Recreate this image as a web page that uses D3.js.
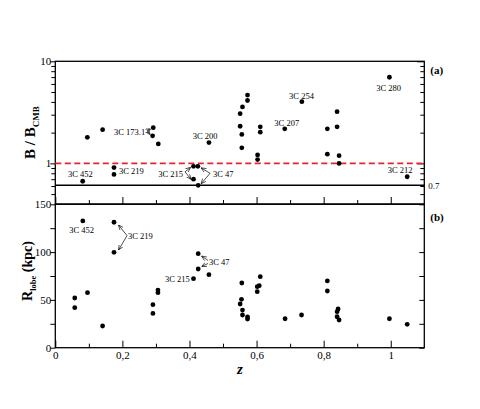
<!DOCTYPE html>
<html><head><meta charset="utf-8">
<script src="https://cdn.jsdelivr.net/npm/d3@7"></script>
<style>
body{margin:0;background:#fff;}
svg{display:block;font-family:"Liberation Serif","Times New Roman",serif;}
text{fill:#000;}
</style></head>
<body><svg id="c" width="480" height="409"></svg>
<script>
// ---- data ----
const topZ = [0.0816,0.0955,0.141,0.175,0.175,0.292,0.290,0.307,0.458,0.412,0.425,0.412,0.426,0.551,0.558,0.551,0.556,0.556,0.573,0.573,0.603,0.603,0.611,0.611,0.684,0.735,0.811,0.811,0.840,0.840,0.846,0.846,0.996,1.049];
const topB = [0.668,1.80,2.14,0.91,0.78,2.24,1.86,1.55,1.60,0.935,0.935,0.70,0.61,3.07,3.57,2.31,1.92,1.42,4.67,4.13,1.21,1.09,2.28,2.02,2.18,4.02,2.18,1.23,3.21,2.28,1.19,1.0,6.98,0.74];
const botZ = [0.058,0.058,0.082,0.096,0.141,0.175,0.175,0.291,0.291,0.306,0.306,0.412,0.426,0.426,0.458,0.556,0.555,0.551,0.558,0.558,0.573,0.573,0.602,0.602,0.608,0.611,0.685,0.734,0.811,0.811,0.843,0.840,0.840,0.846,0.996,1.049];
const botR = [52,41.9,132.6,57.6,22.7,131.2,99.8,45,35.9,60.3,57.6,72.2,98.4,82.3,76.4,67.7,50.6,45.7,39.4,34.2,32.2,30,63.8,58.6,64.9,74.3,30.3,34.2,69.8,59.3,40.5,37.7,32.4,29,30.3,24.4];
const xMajor = [0,0.2,0.4,0.6,0.8,1];
const xMinor = [0.1,0.3,0.5,0.7,0.9];
const xTickLabels = ["0","0,2","0,4","0,6","0,8","1"];
const topMajor = [1,10];
const topMinor = [0.5,0.6,0.7,0.8,0.9,2,3,4,5,6,7,8,9];
const botMajor = [0,50,100,150];
const botMinor = [25,75,125];
const refDashed = 1;      // B/B_CMB = 1
const refSolid = 0.61;    // solid line (labelled "0.7")
// labels: [text, z, value]
const topLabels = [["3C 452",0.038,0.731],["3C 219",0.190,0.781],["3C 173.1",0.175,1.917],["3C 200",0.4098,1.752],
  ["3C 215",0.307,0.731],["3C 47",0.4703,0.731],["3C 207",0.653,2.345],["3C 254",0.697,4.29],["3C 280",0.9564,5.14],["3C 212",0.9913,0.799]];
// arrows: [z0,v0,z1,v1]
const topArrows = [[0.2734,2.095,0.284,2.177],[0.2734,2.095,0.2824,1.917],
  [0.3868,0.826,0.4033,0.914],[0.3868,0.826,0.4047,0.698],
  [0.4614,0.799,0.4345,0.904],[0.4614,0.799,0.4345,0.632]];
const botLabels = [["3C 452",0.0418,120.5],["3C 219",0.2168,113.7],["3C 47",0.4584,86.5],["3C 215",0.3272,68.7]];
const botArrows = [[0.2138,117.2,0.1885,128.3],[0.2138,117.2,0.1885,102.2],
  [0.4554,91.2,0.436,95.9],[0.4554,88.1,0.436,84.9]];

// ---- layout ----
const L=55.3, R=424.3, T1=61.3, B1=204, T2=204.3, B2=347.7;
const x = d3.scaleLinear([0,1.1],[L,R]);
const yT = d3.scaleLog([0.4,10],[B1,T1]);
const yB = d3.scaleLinear([0,150],[B2,T2]);
const svg = d3.select("#c");

const defs = svg.append("defs");
defs.append("marker").attr("id","ah").attr("viewBox","0 0 8 8").attr("refX",8).attr("refY",4)
  .attr("markerWidth",5).attr("markerHeight",5).attr("markerUnits","userSpaceOnUse").attr("orient","auto")
  .append("path").attr("d","M0,0.5 L8,4 L0,7.5").attr("fill","none").attr("stroke","#000").attr("stroke-width",1);

function styleAxis(g){
  g.selectAll("path.domain").remove();
  g.selectAll("line").attr("stroke","#000").attr("stroke-width",1);
  g.selectAll("text").attr("font-family","Liberation Serif").attr("font-size",11).attr("fill","#000");
  g.attr("font-family",null).attr("font-size",null);
}

// top panel axes
svg.append("g").attr("transform",`translate(${L},0)`).call(d3.axisLeft(yT).tickValues(topMajor).tickFormat(d3.format("d")).tickSize(5).tickPadding(-1)).call(styleAxis);
svg.append("g").attr("transform",`translate(${L},0)`).call(d3.axisLeft(yT).tickValues(topMinor).tickFormat("").tickSize(4)).call(styleAxis);
svg.append("g").attr("transform",`translate(${R},0)`).call(d3.axisLeft(yT).tickValues(topMajor).tickFormat("").tickSize(7)).call(styleAxis);
svg.append("g").attr("transform",`translate(${R},0)`).call(d3.axisLeft(yT).tickValues(topMinor).tickFormat("").tickSize(4)).call(styleAxis);
svg.append("g").attr("transform",`translate(0,${B1})`).call(d3.axisBottom(x).tickValues(xMajor).tickFormat("").tickSizeInner(-7).tickSizeOuter(0)).call(styleAxis);
svg.append("g").attr("transform",`translate(0,${B1})`).call(d3.axisBottom(x).tickValues(xMinor).tickFormat("").tickSizeInner(-4).tickSizeOuter(0)).call(styleAxis);

// bottom panel axes
svg.append("g").attr("transform",`translate(${L},0)`).call(d3.axisLeft(yB).tickValues(botMajor).tickFormat(d3.format("d")).tickSize(5).tickPadding(-1)).call(styleAxis);
svg.append("g").attr("transform",`translate(${L},0)`).call(d3.axisLeft(yB).tickValues(botMinor).tickFormat("").tickSize(5)).call(styleAxis);
svg.append("g").attr("transform",`translate(${R},0)`).call(d3.axisLeft(yB).tickValues(botMajor).tickFormat("").tickSize(5)).call(styleAxis);
svg.append("g").attr("transform",`translate(${R},0)`).call(d3.axisLeft(yB).tickValues(botMinor).tickFormat("").tickSize(5)).call(styleAxis);
svg.append("g").attr("transform",`translate(0,${B2})`).call(d3.axisBottom(x).tickValues(xMajor).tickFormat((d,i)=>xTickLabels[i]).tickSizeInner(-7).tickSizeOuter(0).tickPadding(4)).call(styleAxis);
svg.append("g").attr("transform",`translate(0,${B2})`).call(d3.axisBottom(x).tickValues(xMinor).tickFormat("").tickSizeInner(-4).tickSizeOuter(0)).call(styleAxis);

// frames
svg.append("rect").attr("x",L).attr("y",T1).attr("width",R-L).attr("height",B1-T1).attr("fill","none").attr("stroke","#000").attr("stroke-width",1.3);
svg.append("rect").attr("x",L).attr("y",T2).attr("width",R-L).attr("height",B2-T2).attr("fill","none").attr("stroke","#000").attr("stroke-width",1.3);

// reference lines
svg.append("line").attr("x1",L).attr("x2",R).attr("y1",yT(refDashed)).attr("y2",yT(refDashed))
  .attr("stroke","#e8242a").attr("stroke-width",1.8).attr("stroke-dasharray","6,3.5");
svg.append("line").attr("x1",L).attr("x2",R).attr("y1",yT(refSolid)).attr("y2",yT(refSolid))
  .attr("stroke","#000").attr("stroke-width",1.5);
svg.append("text").attr("x",R+4).attr("y",yT(refSolid)+3.5).attr("font-size",9).attr("fill","#000").text("0.7");

// points
svg.append("g").selectAll("circle").data(topZ).join("circle")
  .attr("cx",d=>x(d)).attr("cy",(d,i)=>yT(topB[i])).attr("r",2.4).attr("fill","#000");
svg.append("g").selectAll("circle").data(botZ).join("circle")
  .attr("cx",d=>x(d)).attr("cy",(d,i)=>yB(botR[i])).attr("r",2.4).attr("fill","#000");

// annotations
svg.append("g").selectAll("text").data(topLabels).join("text")
  .attr("x",d=>x(d[1])).attr("y",d=>yT(d[2])).attr("font-size",8.5).attr("fill","#000").text(d=>d[0]);
svg.append("g").selectAll("text").data(botLabels).join("text")
  .attr("x",d=>x(d[1])).attr("y",d=>yB(d[2])).attr("font-size",8.5).attr("fill","#000").text(d=>d[0]);
svg.append("g").selectAll("line").data(topArrows).join("line")
  .attr("x1",d=>x(d[0])).attr("y1",d=>yT(d[1])).attr("x2",d=>x(d[2])).attr("y2",d=>yT(d[3]))
  .attr("stroke","#000").attr("stroke-width",0.7).attr("marker-end","url(#ah)");
svg.append("g").selectAll("line").data(botArrows).join("line")
  .attr("x1",d=>x(d[0])).attr("y1",d=>yB(d[1])).attr("x2",d=>x(d[2])).attr("y2",d=>yB(d[3]))
  .attr("stroke","#000").attr("stroke-width",0.7).attr("marker-end","url(#ah)");

// panel tags
svg.append("text").attr("x",R+6).attr("y",T1+13).attr("font-size",11).attr("font-weight","bold").attr("fill","#000").text("(a)");
svg.append("text").attr("x",R+6).attr("y",T2+16.5).attr("font-size",11).attr("font-weight","bold").attr("fill","#000").text("(b)");

// axis titles
const t1 = svg.append("text").attr("transform",`translate(35,${(T1+B1)/2}) rotate(-90)`).attr("text-anchor","middle")
  .attr("font-size",15).attr("font-weight","bold").attr("fill","#000");
t1.append("tspan").text("B / B");
t1.append("tspan").attr("font-size",9).attr("dy",4).text("CMB");
const t2 = svg.append("text").attr("transform",`translate(32,271) rotate(-90)`).attr("text-anchor","middle")
  .attr("font-size",14).attr("font-weight","bold").attr("fill","#000");
t2.append("tspan").text("R");
t2.append("tspan").attr("font-size",8.5).attr("dy",4).text("lobe");
t2.append("tspan").attr("dy",-4).text(" (kpc)");
svg.append("text").attr("x",(L+R)/2).attr("y",374).attr("text-anchor","middle").attr("font-size",15)
  .attr("font-style","italic").attr("font-weight","bold").attr("fill","#000").text("z");
</script></body></html>
